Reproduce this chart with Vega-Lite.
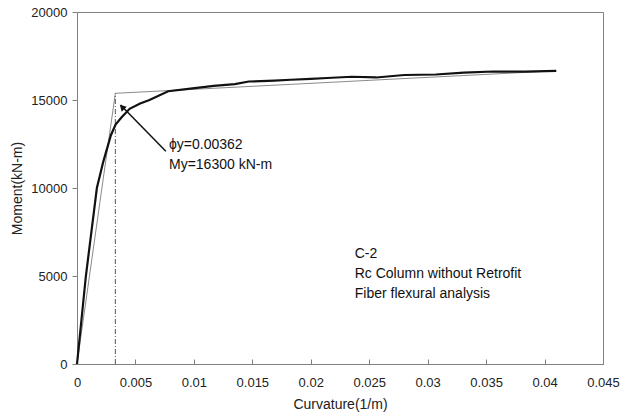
{
  "$schema": "https://vega.github.io/schema/vega-lite/v6.json",
  "autosize": "none",
  "width": 526,
  "height": 352,
  "padding": {"left": 77, "top": 12, "right": 30, "bottom": 55},
  "background": "white",
  "config": {
    "view": {"stroke": "#808080", "strokeWidth": 1},
    "font": "Liberation Sans",
    "axis": {"labelFont": "Liberation Sans", "titleFont": "Liberation Sans", "labelColor": "#222", "titleColor": "#222", "labelFontSize": 13, "titleFontSize": 14, "titleFontWeight": "normal", "domainColor": "#808080", "tickColor": "#808080", "grid": false}
  },
  "datasets": {
    "curve": [
      {"x": 0, "y": 0},
      {"x": 0.00076, "y": 5000},
      {"x": 0.0017, "y": 10000},
      {"x": 0.00225, "y": 11500},
      {"x": 0.0029, "y": 13000},
      {"x": 0.0033, "y": 13600},
      {"x": 0.0038, "y": 14000},
      {"x": 0.0045, "y": 14500},
      {"x": 0.0054, "y": 14800},
      {"x": 0.0062, "y": 15000},
      {"x": 0.0078, "y": 15500},
      {"x": 0.0097, "y": 15650},
      {"x": 0.0117, "y": 15800},
      {"x": 0.0135, "y": 15900},
      {"x": 0.0147, "y": 16050},
      {"x": 0.0169, "y": 16100},
      {"x": 0.0183, "y": 16150},
      {"x": 0.02, "y": 16200},
      {"x": 0.0214, "y": 16250},
      {"x": 0.0235, "y": 16320},
      {"x": 0.0256, "y": 16280},
      {"x": 0.028, "y": 16420},
      {"x": 0.0307, "y": 16450},
      {"x": 0.0331, "y": 16550},
      {"x": 0.0356, "y": 16620},
      {"x": 0.0383, "y": 16610},
      {"x": 0.041, "y": 16660}
    ],
    "bilinear": [
      {"x": 0, "y": 0},
      {"x": 0.00328, "y": 15380},
      {"x": 0.041, "y": 16660}
    ],
    "yieldline": [{"x": 0.00328, "y": 0, "y2": 15380}],
    "arrow": [{"x": 0.0076, "y": 12083, "x2": 0.00373, "y2": 14720}],
    "arrowhead": [{"x": 0.00385, "y": 14600}],
    "notes": [
      {"x": 0.00787, "y": 12460, "label": "ϕy=0.00362"},
      {"x": 0.00787, "y": 11330, "label": "My=16300 kN-m"},
      {"x": 0.02376, "y": 6240, "label": "C-2"},
      {"x": 0.02376, "y": 5108, "label": "Rc Column without Retrofit"},
      {"x": 0.02376, "y": 3977, "label": "Fiber flexural analysis"}
    ]
  },
  "layer": [
    {
      "data": {"name": "bilinear"},
      "mark": {"type": "line", "color": "#8a8a8a", "strokeWidth": 1},
      "encoding": {
        "x": {"field": "x", "type": "quantitative", "scale": {"domain": [0, 0.045], "nice": false}, "axis": {"title": "Curvature(1/m)", "values": [0, 0.005, 0.01, 0.015, 0.02, 0.025, 0.03, 0.035, 0.04, 0.045], "format": "~g", "tickSize": -5, "labelPadding": 17, "titlePadding": 8, "labelFlush": false}},
        "y": {"field": "y", "type": "quantitative", "scale": {"domain": [0, 20000], "nice": false}, "axis": {"title": "Moment(kN-m)", "values": [0, 5000, 10000, 15000, 20000], "format": "d", "tickSize": 5, "labelPadding": 5, "titlePadding": 6, "labelFlush": false}}
      }
    },
    {
      "data": {"name": "yieldline"},
      "mark": {"type": "rule", "color": "#555", "strokeWidth": 1, "strokeDash": [5, 2, 1, 2]},
      "encoding": {
        "x": {"field": "x", "type": "quantitative"},
        "y": {"field": "y", "type": "quantitative"},
        "y2": {"field": "y2"}
      }
    },
    {
      "data": {"name": "curve"},
      "mark": {"type": "line", "color": "#111", "strokeWidth": 2.2},
      "encoding": {
        "x": {"field": "x", "type": "quantitative"},
        "y": {"field": "y", "type": "quantitative"}
      }
    },
    {
      "data": {"name": "arrow"},
      "mark": {"type": "rule", "color": "#111", "strokeWidth": 1.5},
      "encoding": {
        "x": {"field": "x", "type": "quantitative"},
        "y": {"field": "y", "type": "quantitative"},
        "x2": {"field": "x2"},
        "y2": {"field": "y2"}
      }
    },
    {
      "data": {"name": "arrowhead"},
      "mark": {"type": "point", "shape": "triangle-up", "filled": true, "color": "#111", "size": 50, "angle": 315, "opacity": 1},
      "encoding": {
        "x": {"field": "x", "type": "quantitative"},
        "y": {"field": "y", "type": "quantitative"}
      }
    },
    {
      "data": {"name": "notes"},
      "mark": {"type": "text", "align": "left", "baseline": "middle", "fontSize": 14, "color": "#111", "font": "Liberation Sans"},
      "encoding": {
        "x": {"field": "x", "type": "quantitative"},
        "y": {"field": "y", "type": "quantitative"},
        "text": {"field": "label"}
      }
    }
  ]
}
